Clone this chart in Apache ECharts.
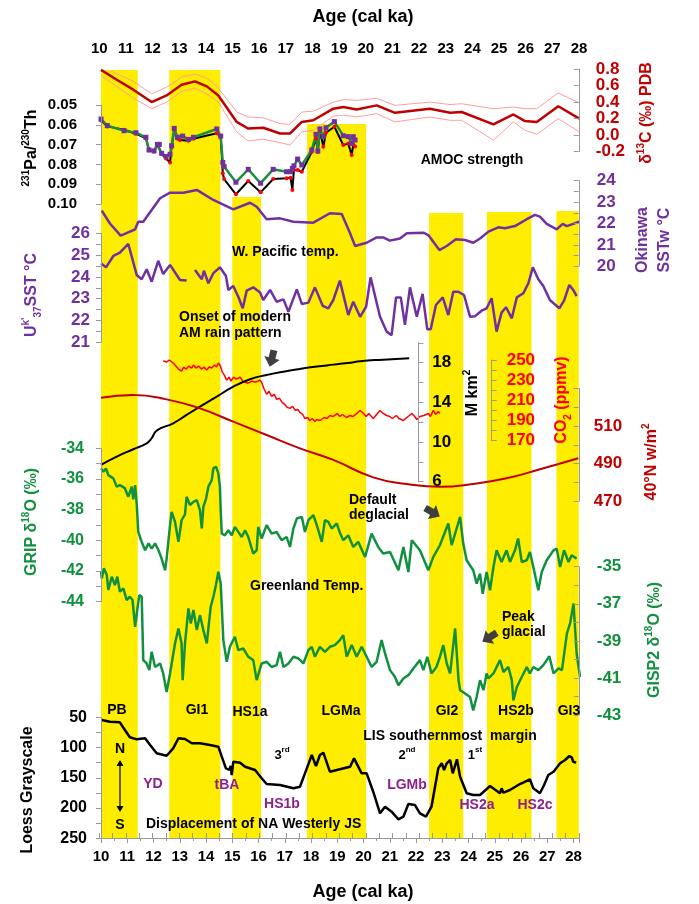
<!DOCTYPE html>
<html><head><meta charset="utf-8">
<script src="https://cdn.jsdelivr.net/npm/echarts@6/dist/echarts.min.js"></script>
<style>html,body{margin:0;padding:0;background:#fff}#c{width:699px;height:904px}</style>
</head><body><div id="c"></div>
<script>
// ---------------- DATA ----------------
const bandNames = ['PB','GI1','HS1a','LGMa','GI2','HS2b','GI3'];
const bandStart = [10.0, 12.6, 15.0, 17.85, 22.5, 24.7, 27.35];
const bandEnd   = [11.4, 14.55, 16.1, 20.1, 23.8, 26.4, 28.2];

const d13C = [[10.0,0.79],[10.6,0.67],[11.23,0.55],[11.93,0.40],[12.5,0.48],[13.07,0.61],[13.58,0.65],[14.03,0.59],[14.47,0.48],[15.17,0.16],[15.6,0.08],[16.18,0.09],[16.82,0.02],[17.2,0.02],[17.65,0.16],[18.09,0.18],[18.85,0.32],[19.23,0.34],[19.74,0.31],[20.5,0.36],[21.2,0.27],[22.53,0.32],[23.3,0.27],[23.74,0.28],[24.95,0.13],[25.71,0.25],[26.15,0.17],[26.6,0.16],[27.42,0.35],[28.22,0.20]];
const d13CUpper = [[10.34,0.78],[11.23,0.65],[11.93,0.50],[12.5,0.58],[13.07,0.70],[13.58,0.74],[14.03,0.69],[14.47,0.57],[15.17,0.28],[15.6,0.22],[16.18,0.21],[16.82,0.14],[17.2,0.13],[17.65,0.28],[18.09,0.29],[18.85,0.40],[19.23,0.43],[19.74,0.42],[20.5,0.445],[21.2,0.36],[22.53,0.40],[23.3,0.37],[23.74,0.38],[24.95,0.32],[25.71,0.34],[26.15,0.32],[26.6,0.32],[27.42,0.51],[28.22,0.39]];
const d13CLower = [[10.0,0.72],[10.6,0.59],[11.23,0.45],[11.93,0.32],[12.5,0.40],[13.07,0.53],[13.58,0.57],[14.03,0.50],[14.47,0.40],[15.17,0.04],[15.6,-0.07],[16.18,-0.05],[16.82,-0.09],[17.2,-0.12],[17.65,0.04],[18.09,0.06],[18.85,0.23],[19.23,0.24],[19.74,0.22],[20.5,0.26],[21.2,0.16],[22.53,0.22],[23.3,0.18],[23.74,0.18],[24.95,-0.06],[25.71,0.16],[26.15,0.06],[26.6,0.01],[27.42,0.20],[28.22,0.04]];

const paThBlack = [[10.0,0.0578],[10.24,0.0608],[10.88,0.0625],[11.33,0.0645],[11.71,0.0668],[11.83,0.0730],[12.02,0.0735],[12.15,0.0702],[12.22,0.0705],[12.31,0.0748],[12.48,0.0770],[12.63,0.0790],[12.69,0.0712],[12.79,0.0625],[12.91,0.0670],[13.01,0.0677],[13.33,0.0680],[13.52,0.0670],[14.41,0.0643],[14.56,0.0660],[14.64,0.0845],[14.69,0.0874],[15.14,0.0951],[15.61,0.0884],[16.08,0.0941],[16.56,0.0874],[17.07,0.0870],[17.22,0.0867],[17.29,0.0929],[17.35,0.0828],[17.49,0.0828],[17.65,0.0837],[18.03,0.0736],[18.19,0.0670],[18.26,0.0737],[18.34,0.0630],[18.47,0.0711],[18.57,0.0640],[18.89,0.0610],[19.23,0.0702],[19.42,0.0695],[19.55,0.0753],[19.61,0.0700],[19.68,0.0710]];
const paThGreen = [[10.0,0.0571],[10.24,0.0604],[10.88,0.0630],[11.33,0.0640],[11.71,0.0663],[11.83,0.0727],[12.02,0.0732],[12.15,0.0699],[12.22,0.0699],[12.31,0.0744],[12.48,0.0760],[12.63,0.0749],[12.69,0.0706],[12.79,0.0618],[12.91,0.0663],[13.11,0.0657],[13.33,0.0674],[13.52,0.0663],[14.41,0.0621],[14.56,0.0657],[14.64,0.0790],[14.69,0.0811],[15.14,0.0890],[15.61,0.0825],[16.08,0.0895],[16.56,0.0825],[17.07,0.0837],[17.22,0.0837],[17.29,0.0820],[17.35,0.0807],[17.49,0.0773],[17.65,0.0803],[18.03,0.0727],[18.19,0.0648],[18.26,0.0732],[18.34,0.0621],[18.47,0.0660],[18.57,0.0615],[18.89,0.0584],[19.23,0.0655],[19.42,0.0660],[19.55,0.0694],[19.61,0.0660],[19.68,0.0677]];

const okinawaSST = [[10.03,22.6],[10.34,22.0],[10.75,21.43],[11.3,21.73],[11.42,22.08],[11.61,22.08],[12.25,23.18],[12.63,23.44],[13.14,23.44],[13.65,23.57],[14.28,23.1],[15.04,22.66],[15.68,22.97],[15.93,22.78],[16.31,22.2],[16.82,22.24],[17.33,22.08],[18.09,22.04],[18.72,22.48],[19.17,22.44],[19.49,21.54],[19.68,20.95],[20.12,21.1],[20.5,21.35],[20.75,21.35],[21.0,21.2],[21.39,21.3],[21.65,21.54],[22.28,21.57],[22.47,21.46],[22.89,20.76],[23.17,20.95],[23.52,21.26],[23.87,21.23],[24.18,21.1],[24.44,21.3],[24.76,21.62],[25.13,21.82],[25.39,21.78],[25.77,21.88],[26.22,22.2],[26.53,22.4],[26.72,22.32],[26.98,21.98],[27.36,21.73],[27.59,21.98],[27.74,21.88],[27.99,21.98],[28.22,22.08]];

const uk37SST = [[10.0,24.62],[10.19,24.44],[10.47,24.96],[10.72,25.11],[11.04,25.51],[11.36,24.09],[11.55,23.89],[11.74,24.35],[11.93,23.78],[12.18,24.74],[12.37,24.13],[12.63,24.55],[13.01,23.86],[13.26,23.83],[13.4,'-'],[13.58,24.32],[13.84,23.89],[13.92,24.28],[14.09,23.71],[14.28,24.17],[14.53,24.44],[14.76,24.04],[14.85,23.4],[15.04,23.58],[15.23,23.09],[15.4,22.56],[15.55,23.37],[15.8,23.52],[16.06,23.28],[16.18,22.94],[16.44,23.4],[16.69,22.86],[16.95,22.97],[17.14,22.4],[17.46,23.43],[17.65,22.76],[17.9,22.82],[18.15,23.52],[18.45,22.67],[18.66,22.56],[18.85,22.94],[19.1,23.83],[19.42,22.25],[19.61,22.86],[19.87,22.17],[20.1,22.63],[20.27,23.98],[20.63,22.17],[20.88,21.49],[21.07,21.33],[21.24,23.06],[21.42,23.06],[21.58,21.8],[21.77,23.52],[22.03,22.17],[22.25,23.22],[22.43,21.6],[22.56,21.6],[22.76,22.71],[23.02,23.06],[23.23,22.25],[23.42,23.32],[23.61,23.32],[23.83,23.17],[24.06,22.17],[24.25,22.2],[24.5,22.45],[24.69,22.56],[24.88,23.02],[25.07,21.49],[25.26,22.36],[25.43,22.61],[25.65,22.1],[25.84,23.06],[26.09,23.25],[26.28,23.71],[26.45,24.44],[26.66,23.89],[26.85,23.58],[27.1,22.94],[27.46,22.56],[27.64,22.91],[27.84,23.63],[27.99,23.4],[28.12,23.12]];

const co2 = [[12.37,249],[12.5,248],[12.6,250],[12.75,247],[12.85,244],[12.95,241],[13.07,239],[13.15,243],[13.25,241],[13.35,244],[13.45,242],[13.52,245],[13.62,242],[13.72,244],[13.82,241],[13.92,243],[14.03,240],[14.12,243],[14.22,242],[14.32,245],[14.4,243],[14.47,247],[14.55,244],[14.62,238],[14.7,235],[14.79,230],[14.88,233],[14.95,229],[15.05,233],[15.15,231],[15.3,233],[15.4,229],[15.5,228],[15.6,227],[15.75,229],[15.9,228],[16.05,230],[16.12,228],[16.2,222],[16.31,216],[16.4,219],[16.5,214],[16.6,216],[16.69,211],[16.8,212],[16.9,208],[17.0,206],[17.1,203],[17.2,202],[17.3,204],[17.4,200],[17.5,201],[17.58,198],[17.68,196],[17.77,192],[17.87,193],[17.95,190],[18.05,192],[18.15,189],[18.22,191],[18.35,190],[18.5,193],[18.6,192],[18.72,195],[18.85,194],[19.0,197],[19.1,194],[19.2,196],[19.35,193],[19.49,195],[19.6,194],[19.75,197],[19.87,200],[20.0,197],[20.1,194],[20.2,197],[20.37,192],[20.5,196],[20.63,200],[20.75,197],[20.88,195],[21.0,194],[21.1,192],[21.25,195],[21.35,192],[21.52,190],[21.65,193],[21.75,195],[21.84,197],[21.95,194],[22.03,191],[22.15,194],[22.3,195],[22.47,197],[22.55,194],[22.66,200],[22.75,196],[22.85,199],[22.91,197]];

const iceArea = [[10.0,7.69],[10.6,8.53],[11.23,9.27],[11.74,9.87],[11.93,10.38],[12.12,11.15],[12.75,11.89],[13.26,12.73],[13.77,13.57],[14.41,14.57],[15.04,15.58],[15.68,16.33],[16.31,16.76],[16.95,17.09],[17.58,17.36],[18.22,17.6],[18.85,17.8],[19.49,18.0],[19.87,18.15],[20.75,18.3],[21.74,18.44]];

const insolation40N = [[10.0,525.1],[11.23,526.5],[12.5,524.2],[13.77,519.4],[15.04,512.3],[16.31,505.2],[17.58,498.1],[18.85,491.9],[20.37,482.6],[21.65,479.1],[22.91,477.6],[24.18,479.1],[25.45,482.1],[26.72,486.9],[28.18,492.8]];

const gripD18O = [[10.0,-35.31],[10.09,-35.53],[10.19,-35.31],[10.28,-35.75],[10.47,-35.96],[10.6,-36.5],[10.72,-36.4],[10.91,-36.6],[11.04,-37.16],[11.17,-36.5],[11.23,-37.33],[11.3,-36.4],[11.36,-37.6],[11.42,-39.45],[11.55,-40.1],[11.68,-40.65],[11.81,-40.2],[11.93,-40.54],[12.06,-40.2],[12.19,-40.65],[12.31,-41.19],[12.44,-41.95],[12.5,-41.19],[12.63,-39.01],[12.69,-38.14],[12.82,-38.8],[12.95,-40.1],[13.07,-38.69],[13.2,-38.3],[13.26,-37.16],[13.33,-37.05],[13.39,-37.7],[13.52,-37.49],[13.65,-37.38],[13.77,-38.03],[13.84,-39.23],[13.9,-37.81],[14.0,-37.3],[14.09,-36.5],[14.22,-36.07],[14.28,-35.31],[14.38,-35.2],[14.47,-35.64],[14.53,-36.5],[14.56,-38.03],[14.6,-39.56],[14.72,-39.67],[14.85,-39.34],[14.98,-39.67],[15.1,-39.12],[15.23,-39.45],[15.36,-39.78],[15.49,-39.34],[15.61,-39.78],[15.8,-40.86],[15.93,-40.65],[15.99,-39.12],[16.12,-39.88],[16.31,-39.01],[16.5,-39.56],[16.69,-39.45],[16.88,-39.99],[17.07,-39.78],[17.2,-40.43],[17.33,-39.23],[17.46,-38.58],[17.65,-38.47],[17.77,-39.45],[17.9,-38.69],[18.09,-38.36],[18.22,-39.01],[18.41,-40.1],[18.53,-38.69],[18.66,-38.8],[18.79,-39.23],[18.98,-38.9],[19.1,-39.5],[19.23,-39.99],[19.42,-39.67],[19.61,-40.43],[19.8,-40.1],[20.06,-41.08],[20.31,-39.56],[20.56,-40.43],[20.75,-40.86],[21.01,-40.76],[21.33,-41.95],[21.52,-40.43],[21.71,-42.07],[21.84,-39.99],[22.15,-40.65],[22.47,-41.95],[22.66,-41.08],[22.91,-40.32],[23.23,-38.9],[23.36,-40.32],[23.49,-39.56],[23.68,-38.47],[23.8,-40.21],[23.93,-41.3],[24.18,-41.95],[24.31,-42.82],[24.44,-42.17],[24.54,-43.48],[24.69,-42.07],[24.82,-43.26],[24.95,-41.74],[25.07,-40.65],[25.26,-41.41],[25.45,-40.65],[25.58,-41.41],[25.77,-40.65],[25.89,-39.88],[26.03,-41.41],[26.22,-41.3],[26.34,-40.76],[26.47,-41.74],[26.66,-43.26],[26.79,-42.07],[26.98,-41.3],[27.24,-40.65],[27.36,-40.54],[27.49,-41.74],[27.64,-40.65],[27.81,-41.41],[27.93,-40.97],[28.12,-41.19]];

const gisp2D18O = [[10.0,-35.27],[10.03,-35.63],[10.11,-35.09],[10.22,-35.45],[10.28,-36.26],[10.41,-35.54],[10.53,-35.99],[10.62,-35.54],[10.72,-36.35],[10.85,-36.17],[10.98,-36.8],[11.1,-36.62],[11.2,-36.8],[11.3,-38.24],[11.38,-37.34],[11.46,-36.53],[11.55,-36.62],[11.61,-40.04],[11.74,-40.22],[11.84,-40.58],[11.93,-39.59],[12.06,-40.41],[12.25,-40.22],[12.37,-40.76],[12.5,-41.76],[12.63,-40.76],[12.69,-40.68],[12.82,-39.14],[12.95,-38.33],[13.07,-39.14],[13.11,-41.12],[13.2,-39.14],[13.33,-37.25],[13.42,-38.06],[13.52,-37.34],[13.65,-38.42],[13.77,-37.61],[13.9,-38.42],[14.03,-39.14],[14.18,-37.16],[14.28,-36.62],[14.38,-35.99],[14.47,-35.27],[14.56,-35.9],[14.66,-38.96],[14.79,-40.13],[14.91,-39.32],[15.1,-38.78],[15.23,-39.5],[15.42,-39.41],[15.61,-39.86],[15.8,-40.04],[15.93,-41.12],[16.12,-40.22],[16.31,-40.13],[16.5,-40.41],[16.69,-40.31],[16.82,-39.59],[16.95,-40.41],[17.14,-40.22],[17.33,-39.86],[17.52,-39.95],[17.71,-40.22],[17.9,-39.5],[18.03,-39.32],[18.15,-39.86],[18.34,-39.32],[18.53,-39.59],[18.72,-39.32],[18.91,-39.23],[19.1,-38.96],[19.23,-38.69],[19.36,-39.86],[19.55,-39.23],[19.74,-39.86],[19.93,-39.32],[20.12,-39.86],[20.31,-40.41],[20.5,-40.13],[20.69,-38.96],[20.82,-39.68],[21.01,-40.58],[21.2,-40.95],[21.33,-41.4],[21.52,-41.03],[21.71,-40.85],[21.9,-40.49],[22.15,-40.04],[22.28,-40.58],[22.43,-39.86],[22.59,-40.76],[22.78,-40.41],[22.91,-39.86],[23.04,-39.23],[23.17,-40.22],[23.3,-40.76],[23.49,-38.33],[23.62,-41.12],[23.68,-41.66],[23.87,-41.84],[24.06,-42.03],[24.18,-42.75],[24.31,-42.03],[24.44,-41.12],[24.57,-41.66],[24.69,-40.76],[24.76,-41.03],[24.95,-40.76],[25.2,-40.04],[25.33,-40.68],[25.52,-40.41],[25.65,-41.12],[25.71,-42.21],[25.84,-41.49],[26.03,-40.95],[26.22,-40.41],[26.34,-40.76],[26.47,-40.41],[26.66,-40.58],[26.85,-40.31],[27.08,-39.83],[27.24,-40.76],[27.43,-40.49],[27.56,-40.58],[27.75,-38.6],[27.87,-38.06],[28.0,-36.98],[28.12,-39.68],[28.25,-40.95]];

const loessGray = [[10.03,54.5],[10.34,57.3],[10.72,58.3],[10.91,71],[11.1,83],[11.36,86.4],[11.68,84.7],[11.87,95.8],[12.12,109.5],[12.5,113.5],[12.75,101.3],[12.95,84.7],[13.2,85.9],[13.46,93],[13.77,93],[14.15,95.8],[14.47,98.6],[14.6,115.1],[14.76,134.3],[14.89,137.1],[14.94,130.5],[14.98,145.4],[15.04,123.4],[15.3,125],[15.49,131.7],[15.87,137.1],[16.12,150.8],[16.31,160.3],[16.82,161.9],[17.33,167.4],[17.58,164.7],[17.77,142.6],[18.03,112.3],[18.19,130.5],[18.34,112.3],[18.47,108.5],[18.72,139.9],[19.1,136],[19.49,131.7],[19.64,117.8],[19.93,142.6],[20.12,142.6],[20.37,173],[20.63,208.7],[20.82,197.8],[21.07,206],[21.33,218.6],[21.52,214.3],[21.71,193.3],[21.96,195],[22.15,208.7],[22.38,214.3],[22.59,197.8],[22.85,134.3],[22.98,126],[23.07,137.1],[23.17,126],[23.3,120.6],[23.4,142.6],[23.56,119.4],[23.68,148.2],[23.93,175.6],[24.18,178.4],[24.44,178.4],[24.82,163.6],[25.2,175.6],[25.26,167.4],[25.33,174.6],[25.58,170.2],[25.96,160.3],[26.34,152.5],[26.47,167.4],[26.72,175.6],[26.88,161.9],[27.04,145.4],[27.24,139.9],[27.49,126],[27.68,120.6],[27.84,114],[27.93,116.1],[27.99,123.4],[28.1,125]];

// ---------------- LAYOUT / STYLE ----------------
const FONT = '"Liberation Sans", Arial, Helvetica, sans-serif';
const X0 = 101, XW = 477.75, XMIN = 10, XMAX = 28.2;
const YELLOW = '#FFED00', DARKRED = '#C00000', PURPLE = '#7030A0', GREEN = '#11913F', RED = '#FF0000', MAUVE = '#8E1F8C';
const BAND_TOP = 70, BAND_BOTTOM = 838;
const bandTopPx = [70, 70, 197, 124, 213, 212, 211];

const grids = [], xAxes = [], yAxes = [], series = [];
function addGrid(g, xa, ya) {
  const gi = grids.length;
  grids.push(Object.assign({containLabel:false, outerBoundsMode:'none'}, g));
  xAxes.push(Object.assign({type:'value', gridIndex:gi, min:XMIN, max:XMAX, show:false, splitLine:{show:false}, z:10}, xa||{}));
  yAxes.push(Object.assign({type:'value', gridIndex:gi, show:false, splitLine:{show:false}, z:10}, ya||{}));
  return gi;
}
function yAxisCfg(o) {
  const fs = o.fs || 15;
  return {
    show:true, z:10, position:o.pos, offset:o.offset||0, min:o.min, max:o.max, interval:o.interval, splitNumber:o.splitNumber,
    inverse:!!o.inverse,
    axisLine:{show:o.noLine?false:true, onZero:false, lineStyle:{color:'#9a9a9a', width:1}},
    axisTick:{show:o.noLine?false:true, length:o.tickLen||5, inside:!!o.tickInside, lineStyle:{color:'#9a9a9a'}},
    axisLabel:{show:true, showMinLabel:true, showMaxLabel:true, hideOverlap:false, color:o.color, fontSize:fs,
      fontWeight:'bold', fontFamily:FONT, margin:o.margin, formatter:o.fmt},
    splitLine:{show:false}
  };
}
function panel(top, bottom, ycfg) {
  return addGrid({left:X0, width:XW, top:top, height:bottom-top}, null, yAxisCfg(ycfg));
}
function lineS(gi, data, color, width, extra) {
  return Object.assign({type:'line', xAxisIndex:gi, yAxisIndex:gi, data:data, symbol:'none', showSymbol:false,
    lineStyle:{color:color, width:width}, itemStyle:{color:color}, silent:true, animation:false, clip:false, z:5}, extra||{});
}

// bands grid
const gBand = addGrid({left:X0, width:XW, top:BAND_TOP, height:BAND_BOTTOM-BAND_TOP}, null, {min:0, max:BAND_BOTTOM-BAND_TOP, inverse:true});
series.push({type:'line', xAxisIndex:gBand, yAxisIndex:gBand, data:[], silent:true, animation:false, z:1,
  markArea:{silent:true, itemStyle:{color:YELLOW, opacity:1}, label:{show:false},
    data: bandNames.map((n,i)=>[{xAxis:bandStart[i], yAxis:bandTopPx[i]-BAND_TOP},{xAxis:bandEnd[i], yAxis:BAND_BOTTOM-BAND_TOP}])}});

// top axis
const intFmt = v => (Math.abs(v - Math.round(v)) < 1e-6 ? String(Math.round(v)) : '');
addGrid({left:99.3, width:479.7, top:70, height:768},
  {show:true, position:'top', min:10, max:28, interval:0.5,
   axisLine:{show:true, lineStyle:{color:'#9a9a9a'}}, axisTick:{show:true, length:5, lineStyle:{color:'#9a9a9a'}},
   axisLabel:{show:true, showMinLabel:true, showMaxLabel:true, color:'#000', fontSize:15, fontWeight:'bold', fontFamily:FONT, margin:14, formatter:intFmt}}, {min:0,max:1});
// bottom axis
addGrid({left:X0, width:XW, top:70, height:768},
  {show:true, position:'bottom', min:10, max:XMAX, interval:1,
   axisLine:{show:true, lineStyle:{color:'#9a9a9a'}}, axisTick:{show:true, length:5, lineStyle:{color:'#9a9a9a'}},
   minorTick:{show:true, splitNumber:2, length:3, lineStyle:{color:'#9a9a9a'}},
   axisLabel:{show:true, showMinLabel:true, color:'#000', fontSize:15, fontWeight:'bold', fontFamily:FONT, margin:11, formatter:intFmt}}, {min:0,max:1});

// panels
const d13Even = [0.8, 0.4, 0.0];
const d13Odd  = [0.6, 0.2, -0.2];
const d13Fmt = set => v => (set.some(s => Math.abs(s - v) < 1e-6) ? (Math.abs(v) < 1e-6 ? '0.0' : v.toFixed(1)) : '');
const gD13C = panel(69, 151.7, {pos:'right', min:-0.2, max:0.8, interval:0.2, color:DARKRED, fs:17, margin:17, tickInside:true, fmt:d13Fmt(d13Even)});
const gPa   = panel(105, 204, {pos:'left', min:0.05, max:0.10, splitNumber:5, inverse:true, color:'#000', fs:15, margin:24, fmt:v=>v.toFixed(2)});
const gOki  = panel(180.7, 266.3, {pos:'right', min:20, max:24, interval:0.5, color:PURPLE, fs:17, margin:18, tickInside:true, fmt:intFmt});
const gUk   = panel(233.3, 342.3, {pos:'left', min:21, max:26, interval:0.5, color:PURPLE, fs:17, margin:11, fmt:intFmt});
const gIce  = panel(342.8, 481.7, {pos:'right', offset:-(X0+XW-418.3), min:6, max:20, interval:2, color:'#000', fs:17, margin:14, fmt:v=>((v-6)%4===0?String(v):'')});
const gCO2  = panel(360, 440.7, {pos:'right', offset:-(X0+XW-491.7), min:170, max:250, interval:10, color:RED, fs:17, margin:15, fmt:v=>((v-170)%20===0?String(v):'')});
const gIns  = panel(388.5, 501, {pos:'right', min:470, max:530, interval:10, color:DARKRED, fs:17, margin:15, tickInside:true, fmt:v=>((v===470||v===490||v===510)?String(v):'')});
const gGrip = panel(448.3, 601.7, {pos:'left', min:-44, max:-34, interval:1, color:GREEN, fs:16, margin:17, fmt:v=>(Math.abs(v)%2===0?String(v):'')});
const gGisp = panel(566.7, 715, {pos:'right', min:-43, max:-35, interval:1, color:GREEN, fs:17, margin:18, tickInside:true, fmt:v=>(Math.abs(v)%2===1?String(v):'')});
const gLoess= panel(717.3, 838.3, {pos:'left', min:50, max:250, interval:25, inverse:true, color:'#000', fs:16, margin:14, fmt:v=>(v%50===0?String(v):'')});
// second label-only axis for δ13C (the odd labels), same grid and scale
yAxes.push(Object.assign({type:'value', gridIndex:gD13C},
  yAxisCfg({pos:'right', min:-0.2, max:0.8, interval:0.2, color:DARKRED, fs:17, margin:17, tickInside:true, noLine:true, fmt:d13Fmt(d13Odd)})));

// series
series.push(lineS(gD13C, d13CUpper, '#FF9E9E', 1));
series.push(lineS(gD13C, d13CLower, '#FF9E9E', 1));
series.push(lineS(gD13C, d13C, DARKRED, 2.5));
series.push(lineS(gPa, paThBlack, '#000', 2, {symbol:'circle', showSymbol:true, symbolSize:4, itemStyle:{color:RED}}));
series.push(lineS(gPa, paThGreen, '#1E8F3E', 2.5, {symbol:'rect', showSymbol:true, symbolSize:5, itemStyle:{color:PURPLE}}));
series.push(lineS(gOki, okinawaSST, PURPLE, 2.5));
series.push(lineS(gUk, uk37SST, PURPLE, 2.5, {connectNulls:false}));
series.push(lineS(gCO2, co2, RED, 1.5));
series.push(lineS(gIce, iceArea, '#000', 2, {smooth:true}));
series.push(lineS(gIns, insolation40N, DARKRED, 2, {smooth:true}));
series.push(lineS(gGrip, gripD18O, GREEN, 2.5));
series.push(lineS(gGisp, gisp2D18O, GREEN, 2.5));
series.push(lineS(gLoess, loessGray, '#000', 2.5));

// ---------------- GRAPHIC TEXT ----------------
function rt(col, fs) {
  return {
    n:{fontSize:fs, fontWeight:'bold', fontFamily:FONT, fill:col, color:col, lineHeight:fs+6, verticalAlign:'middle'},
    sup:{fontSize:Math.round(fs*0.65), fontWeight:'bold', fontFamily:FONT, fill:col, color:col, lineHeight:Math.round(fs*0.7), verticalAlign:'top'},
    sub:{fontSize:Math.round(fs*0.65), fontWeight:'bold', fontFamily:FONT, fill:col, color:col, lineHeight:Math.round(fs*0.7), verticalAlign:'bottom'}
  };
}
function T(x, y, text, o) {
  o = o || {};
  const col = o.color || '#000', fs = o.fs || 14;
  return {type:'text', x:x, y:y, rotation:o.rot||0, z:100, silent:true,
    style:{text:text, fill:col, fontSize:fs, fontWeight:'bold', fontFamily:FONT, rich:rt(col, fs),
      align:o.align||'center', verticalAlign:'middle'}};
}
const R = Math.PI/2;
const arrowPts = [[-8,-3.5],[0,-3.5],[0,-8],[9,0],[0,8],[0,3.5],[-8,3.5]];
function arrow(x, y, rot) { return {type:'polygon', x:x, y:y, rotation:rot, z:100, silent:true, shape:{points:arrowPts}, style:{fill:'#3f3f3f'}}; }

const graphics = [
  T(363, 17, 'Age (cal ka)', {fs:18}),
  T(363, 892, 'Age (cal ka)', {fs:18}),
  // axis names
  T(32, 148, '{sup|231}{n|Pa/}{sup|230}{n|Th}', {rot:R, fs:16}),
  T(647, 113, '{n|δ}{sup|13}{n|C (‰) PDB}', {rot:R, fs:16, color:DARKRED}),
  T(643, 240, 'Okinawa', {rot:R, fs:16, color:PURPLE}),
  T(665, 240, 'SSTw °C', {rot:R, fs:16, color:PURPLE}),
  T(32, 295, '{n|U}{sup|k\'}{sub|37}{n|SST °C}', {rot:R, fs:16, color:PURPLE}),
  T(473, 393, '{n|M km}{sup|2}', {rot:R, fs:16}),
  T(562, 400, '{n|CO}{sub|2}{n| (ppmv)}', {rot:R, fs:16, color:RED}),
  T(652, 462, '{n|40°N w/m}{sup|2}', {rot:R, fs:16, color:DARKRED}),
  T(32, 522, '{n|GRIP δ}{sup|18}{n|O (‰)}', {rot:R, fs:16, color:GREEN}),
  T(655, 640, '{n|GISP2 δ}{sup|18}{n|O (‰)}', {rot:R, fs:16, color:GREEN}),
  T(28, 790, 'Loess Grayscale', {rot:R, fs:16}),
  // annotations
  T(472, 160, 'AMOC strength', {fs:14}),
  T(232, 252, 'W. Pacific temp.', {fs:14, align:'left'}),
  T(179, 317, 'Onset of modern', {fs:14, align:'left'}),
  T(179, 333, 'AM rain pattern', {fs:14, align:'left'}),
  T(349, 500, 'Default', {fs:14, align:'left'}),
  T(349, 515, 'deglacial', {fs:14, align:'left'}),
  T(250, 586, 'Greenland Temp.', {fs:14, align:'left'}),
  T(502, 617, 'Peak', {fs:14, align:'left'}),
  T(502, 632, 'glacial', {fs:14, align:'left'}),
  arrow(272, 358, -0.58*Math.PI),
  arrow(432, 512, -0.17*Math.PI),
  arrow(490, 637, -0.82*Math.PI),
  // band labels
  T(117, 710, 'PB', {fs:14}),
  T(197, 710, 'GI1', {fs:14}),
  T(250, 712, 'HS1a', {fs:14}),
  T(341, 711, 'LGMa', {fs:14}),
  T(447, 711, 'GI2', {fs:14}),
  T(516, 711, 'HS2b', {fs:14}),
  T(569, 711, 'GI3', {fs:14}),
  T(450, 736, 'LIS southernmost  margin', {fs:14}),
  T(282, 755, '{n|3}{sup|rd}', {fs:13}),
  T(407, 755, '{n|2}{sup|nd}', {fs:13}),
  T(475, 755, '{n|1}{sup|st}', {fs:13}),
  T(120, 749, 'N', {fs:14}),
  T(120, 825, 'S', {fs:14}),
  {type:'line', z:100, silent:true, shape:{x1:120, y1:764, x2:120, y2:808}, style:{stroke:'#000', lineWidth:1.2}},
  {type:'polygon', z:100, silent:true, shape:{points:[[116.5,766],[120,760],[123.5,766]]}, style:{fill:'#000'}},
  {type:'polygon', z:100, silent:true, shape:{points:[[116.5,806],[120,812],[123.5,806]]}, style:{fill:'#000'}},
  T(153, 784, 'YD', {fs:14, color:MAUVE}),
  T(227, 785, 'tBA', {fs:14, color:MAUVE}),
  T(282, 804, 'HS1b', {fs:14, color:MAUVE}),
  T(407, 785, 'LGMb', {fs:14, color:MAUVE}),
  T(477, 805, 'HS2a', {fs:14, color:MAUVE}),
  T(535, 805, 'HS2c', {fs:14, color:MAUVE}),
  T(146, 824, 'Displacement of NA Westerly JS', {fs:14, align:'left'})
];

const chart = echarts.init(document.getElementById('c'), null, {renderer:'canvas'});
chart.setOption({
  animation:false,
  backgroundColor:'#fff',
  textStyle:{fontFamily:FONT},
  grid:grids, xAxis:xAxes, yAxis:yAxes, series:series, graphic:graphics
});
</script></body></html>
